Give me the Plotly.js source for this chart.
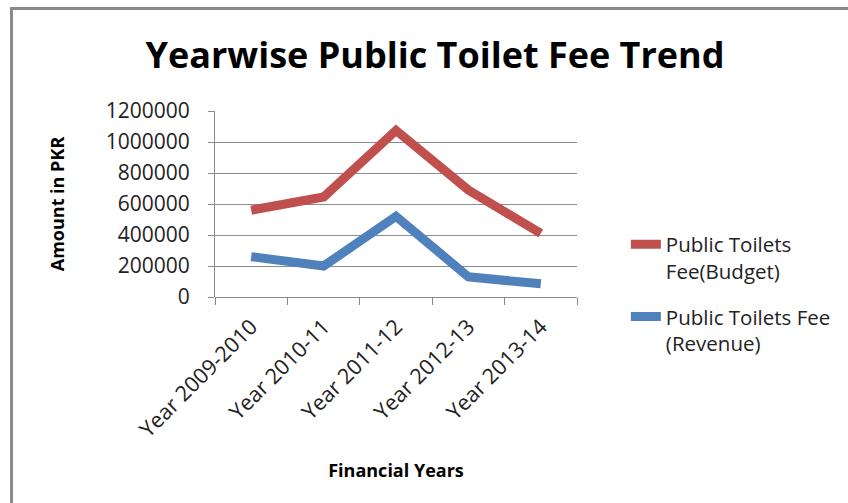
<!DOCTYPE html>
<html><head><meta charset="utf-8">
<script src="https://cdn.plot.ly/plotly-3.0.1.min.js"></script>
<style>body{margin:0;background:#fff}#frame{position:absolute;left:10px;top:7px;width:900px;height:600px;border-top:3px solid #8a8a8a;border-left:3px solid #8a8a8a;pointer-events:none}</style>
</head><body>
<div id="chart" style="width:848px;height:503px"></div>
<div id="frame"></div>
<script>
const categories = ["Year 2009-2010","Year 2010-11","Year 2011-12","Year 2012-13","Year 2013-14"];
const budget = [560000, 645000, 1075000, 690000, 410000];
const revenue = [260000, 200000, 520000, 130000, 85000];
const yTicks = [0,200000,400000,600000,800000,1000000,1200000];
const F = '"Open Sans", Calibri, sans-serif';
const data = [
 {x:categories, y:budget, type:'scatter', mode:'lines', name:'Public Toilets<br>Fee(Budget)', legendgroup:'b', line:{color:'#C0504D', width:9}},
 {x:categories, y:revenue, type:'scatter', mode:'lines', name:'Public Toilets Fee<br>(Revenue)', legendgroup:'r', line:{color:'#4F81BD', width:9}}
];
const layout = {
 width:848, height:503,
 margin:{l:215, r:271, t:111, b:206, autoexpand:false},
 paper_bgcolor:'#fff', plot_bgcolor:'#fff',
 font:{family:F, color:'#222', size:19},
 title:{text:'<b>Yearwise Public Toilet Fee Trend</b>', font:{size:36, color:'#000', family:F}, x:0.513, xanchor:'center', y:0.89, yanchor:'middle'},
 xaxis:{type:'category', tickangle:-45, tickson:'boundaries', ticks:'outside', ticklen:7, tickcolor:'#888', showline:false, showgrid:false, zeroline:false,
   tickfont:{size:21.5, color:'#222'}, range:[-0.5,4.5], ticklabelstandoff:12,
   title:{text:'<b>Financial Years</b>', font:{size:18, color:'#000'}, standoff:22}},
 yaxis:{range:[0,1200000], tickvals:yTicks, ticktext:yTicks.map(String), showgrid:true, gridcolor:'#8c8c8c', gridwidth:1,
   showline:true, linecolor:'#8c8c8c', ticks:'outside', ticklen:6, tickcolor:'#8c8c8c', zeroline:true, zerolinecolor:'#8c8c8c',
   tickfont:{size:21, color:'#222'}, ticklabelstandoff:14,
   title:{text:'<b>Amount in PKR</b>', font:{size:18, color:'#000'}, standoff:36}},
 legend:{x:1.135, y:0.39, xanchor:'left', yanchor:'top', valign:'top', font:{size:20.5, color:'#222'}, tracegroupgap:16, bgcolor:'rgba(0,0,0,0)'},
 showlegend:true
};
Plotly.newPlot('chart', data, layout, {displayModeBar:false, staticPlot:true});
</script>
</body></html>
